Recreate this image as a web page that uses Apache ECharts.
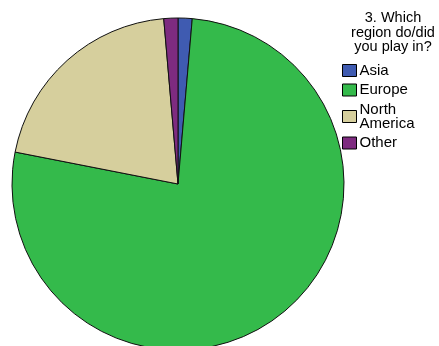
<!DOCTYPE html>
<html>
<head>
<meta charset="utf-8">
<script src="https://cdn.jsdelivr.net/npm/echarts@6/dist/echarts.min.js"></script>
<style>html,body{margin:0;padding:0;background:#fff}#c{width:439px;height:346px}</style>
</head>
<body>
<div id="c"></div>
<script>
const categories = ['Asia', 'Europe', 'North America', 'Other'];
const counts = [1, 56, 15, 1];
const colors = ['#3f5bb1', '#34ba4b', '#d6cf9d', '#7e2b80'];
const legendTitle = '3. Which\nregion do/did\nyou play in?';

const chart = echarts.init(document.getElementById('c'), null, {renderer: 'canvas'});
chart.setOption({
  backgroundColor: '#ffffff',
  animation: false,
  title: {
    text: legendTitle,
    left: 393, top: 11, textAlign: 'center', padding: 0,
    textStyle: {fontFamily: 'Liberation Sans', fontSize: 14.5, fontWeight: 'normal', color: '#000', lineHeight: 14.5}
  },
  legend: {
    orient: 'vertical', left: 342, top: 63, padding: 0,
    itemWidth: 14, itemHeight: 12, itemGap: 4.5, icon: 'rect',
    itemStyle: {borderColor: '#000', borderWidth: 1},
    formatter: n => n.replace(' ', '\n'),
    textStyle: {fontFamily: 'Liberation Sans', fontSize: 15, color: '#000', lineHeight: 14, padding: [0, 0, 0, -2]},
    data: categories
  },
  series: [{
    type: 'pie',
    center: [178, 184], radius: 166,
    startAngle: 90, clockwise: true,
    label: {show: false}, labelLine: {show: false},
    emphasis: {disabled: true},
    itemStyle: {borderColor: '#111', borderWidth: 1},
    data: categories.map((c, i) => ({name: c, value: counts[i], itemStyle: {color: colors[i]}}))
  }]
});
</script>
</body>
</html>
